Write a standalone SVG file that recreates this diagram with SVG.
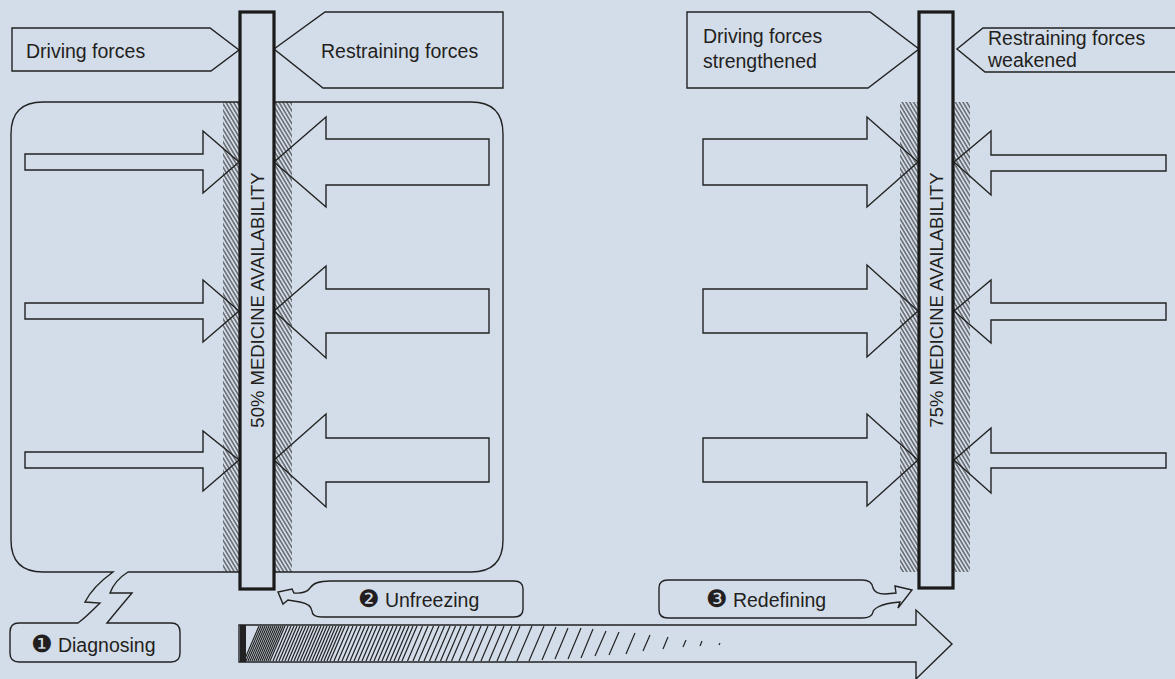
<svg xmlns="http://www.w3.org/2000/svg" width="1175" height="679" viewBox="0 0 1175 679">
<style>
.ol{fill:none;stroke:#222;stroke-width:1.4;stroke-linejoin:miter}
.bg{fill:#d3dde9}
.pillar{fill:#d3dde9;stroke:#1a1a1a;stroke-width:3.2}
.t{font-family:"Liberation Sans",Arial,sans-serif;font-size:19.5px;fill:#231f20}
.v{font-family:"Liberation Sans",Arial,sans-serif;font-size:18.5px;fill:#231f20}
.num{font-family:"DejaVu Sans",sans-serif;font-size:24px}
.hl{stroke:#222;stroke-width:1.2;fill:none}
</style>
<defs>
<pattern id="hatchBand" width="3.8" height="10" patternUnits="userSpaceOnUse" patternTransform="skewX(31)">
<line x1="1" y1="0" x2="1" y2="10" stroke="#222" stroke-width="1.1"/>
</pattern>
</defs>
<rect class="bg" x="0" y="0" width="1175" height="679"/>

<g id="diagnosing">
<path class="ol" d="M 128,572 H 471 Q 503,572 503,540 V 134 Q 503,102 471,102 H 43 Q 11,102 11,134 V 540 Q 11,572 43,572 H 113 C 102,580 90,592 85,602 L 100,603 C 93,610 85,618 78,623 H 19 Q 10,623 10,632 V 653 Q 10,662 19,662 H 171 Q 180,662 180,653 V 632 Q 180,623 171,623 H 107 C 116,612 126,600 132,593 L 110,593 C 113,585 120,577 128,572 Z"/>
<text class="t" x="31" y="652"><tspan class="num">❶</tspan> Diagnosing</text>
</g>

<g id="hatching">
<rect x="223" y="102" width="17" height="470" fill="url(#hatchBand)"/>
<rect x="274" y="102" width="18" height="470" fill="url(#hatchBand)"/>
<rect x="900" y="102" width="19" height="470" fill="url(#hatchBand)"/>
<rect x="953" y="102" width="17" height="470" fill="url(#hatchBand)"/>
</g>

<g id="connectors">
<g id="left-driving-arrows">
<polygon class="ol" points="25,154 203,154 203,131 239,162 203,193 203,170 25,170"/>
<polygon class="ol" points="25,303 203,303 203,280 239,311 203,342 203,319 25,319"/>
<polygon class="ol" points="25,452 203,452 203,431 239,460 203,491 203,468 25,468"/>
</g>
<g id="left-restraining-arrows">
<polygon class="ol" points="274,162 326,117 326,139 489,139 489,185 326,185 326,207"/>
<polygon class="ol" points="274,311 326,266 326,289 489,289 489,333 326,333 326,358"/>
<polygon class="ol" points="274,460 326,414 326,438 489,438 489,482 326,482 326,507"/>
</g>
<g id="right-driving-arrows">
<polygon class="ol" points="703,139 867,139 867,117 918,162 867,207 867,185 703,185"/>
<polygon class="ol" points="703,289 867,289 867,265 918,311 867,357 867,333 703,333"/>
<polygon class="ol" points="703,438 867,438 867,414 918,460 867,506 867,482 703,482"/>
</g>
<g id="right-restraining-arrows">
<polygon class="ol" points="954,162 991,131 991,155 1166,155 1166,171 991,171 991,195"/>
<polygon class="ol" points="954,311 991,280 991,303 1166,303 1166,320 991,320 991,343"/>
<polygon class="ol" points="954,460 991,428 991,453 1166,453 1166,468 991,468 991,493"/>
</g>
<g id="progress-arrow">
<clipPath id="shaftClip"><rect x="240" y="625" width="676" height="37"/></clipPath>
<g clip-path="url(#shaftClip)">
<rect x="240" y="625" width="6" height="37" fill="#222"/>
<path class="hl" d="M 244,661 l 15,-35 m -13,35 l 15,-35 m -13,35 l 15,-35 m -13,35 l 15,-35 m -13,35 l 15,-35 m -13,35 l 15,-35 m -13,35 l 15,-35 m -13,35 l 15,-35 m -13,35 l 15,-35 m -13,35 l 15,-35 m -13,35 l 15,-35 m -13,35 l 15,-35 m -13,35 l 15,-35 m -13,35 l 15,-35
m -12,35 l 15,-35 m -12,35 l 15,-35 m -12,35 l 15,-35 m -12,35 l 15,-35 m -12,35 l 15,-35 m -12,35 l 15,-35 m -12,35 l 15,-35 m -12,35 l 15,-35 m -12,35 l 15,-35 m -12,35 l 15,-35 m -12,35 l 15,-35 m -12,35 l 15,-35 m -12,35 l 15,-35 m -12,35 l 15,-35 m -12,35 l 15,-35 m -12,35 l 15,-35 m -12,35 l 15,-35 m -12,35 l 15,-35 m -12,35 l 15,-35 m -12,35 l 15,-35
m -11,35 l 15,-35 m -11,35 l 15,-35 m -11,35 l 15,-35 m -11,35 l 15,-35 m -11,35 l 15,-35 m -11,35 l 15,-35 m -11,35 l 15,-35 m -11,35 l 15,-35 m -11,35 l 15,-35 m -11,35 l 15,-35 m -11,35 l 15,-35 m -11,35 l 15,-35 m -11,35 l 15,-35 m -11,35 l 15,-35 m -11,35 l 15,-35 m -11,35 l 15,-35 m -11,35 l 15,-35 m -11,35 l 15,-35
m -9.5,35 l 15,-35 m -9.5,35 l 15,-35 m -9.5,35 l 15,-35 m -9.5,35 l 15,-35 m -9.5,35 l 15,-35 m -9.5,35 l 15,-35 m -9.5,35 l 15,-35 m -9.5,35 l 15,-35 m -9.5,35 l 15,-35
M 459,661 l 15,-35 M 466,661 l 15,-35 M 473,661 l 15,-35 M 481,661 l 15,-35 M 489,661 l 15,-35 M 497,661 l 15,-35
M 505,661 l 15,-35 M 517,661 l 15,-35 M 529,661 l 15,-35 M 542,660 l 14,-33 M 555,659 l 13,-31 M 568,659 l 13,-31 M 581,658 l 12,-29 M 595,656 l 11,-25 M 609,655 l 10,-23 M 626,654 l 9,-21 M 643,651 l 7,-16 M 663,649 l 5,-12 M 683,647 l 3,-7 M 700,646 l 2,-5 M 719,645 l 1,-2"/>
</g>
<polygon class="ol" points="239,625 916,625 916,610 952,644 916,679 916,662 239,662"/>
</g>
</g>

<g id="label-driving">
<polygon class="ol" points="12,28 210,28 239,50 211,71 12,71"/>
<text class="t" x="26" y="58">Driving forces</text>
</g>
<g id="label-restraining">
<polygon class="ol" points="274,49 325,12 503,12 503,88 323,88"/>
<text class="t" x="321" y="58">Restraining forces</text>
</g>
<g id="label-driving-strengthened">
<polygon class="ol" points="687,12 870,12 919,49 868,88 687,88"/>
<text class="t" x="703" y="43">Driving forces</text>
<text class="t" x="703" y="68">strengthened</text>
</g>
<g id="label-restraining-weakened">
<polygon class="ol" points="1180,28 983,28 957,49 985,72 1180,72"/>
<text class="t" x="988" y="45">Restraining forces</text>
<text class="t" x="988" y="67">weakened</text>
</g>

<g id="pillar-50">
<rect class="pillar" x="240" y="12" width="34" height="577"/>
<text class="v" transform="translate(264,300) rotate(-90)" text-anchor="middle">50% MEDICINE AVAILABILITY</text>
</g>
<g id="pillar-75">
<rect class="pillar" x="919" y="12" width="34" height="576"/>
<text class="v" transform="translate(943,300) rotate(-90)" text-anchor="middle">75% MEDICINE AVAILABILITY</text>
</g>

<g id="unfreezing">
<path class="ol" d="M 330,581 H 514 Q 523,581 523,589 V 609 Q 523,617 514,617 H 322 Q 312,617 312,611 Q 311,604 300,602 L 288,600 L 283,604 L 278,592 L 292,589 L 294,593 Q 306,594 310,588 Q 314,581 330,581 Z"/>
<text class="t" x="358" y="607"><tspan class="num">❷</tspan> Unfreezing</text>
</g>
<g id="redefining">
<path class="ol" d="M 668,580 H 862 Q 872,580 873,588 Q 875,594 885,594 L 896,593 L 895,586 L 912,590 L 898,608 L 900,602 Q 885,603 878,607 Q 873,610 873,612 Q 872,618 862,618 H 668 Q 659,618 659,610 V 588 Q 659,580 668,580 Z"/>
<text class="t" x="706" y="607"><tspan class="num">❸</tspan> Redefining</text>
</g>
</svg>
